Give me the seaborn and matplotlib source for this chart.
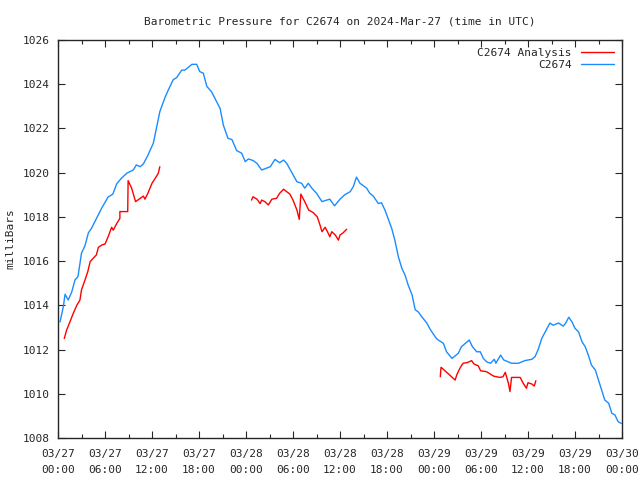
import pandas as pd
import matplotlib
matplotlib.use("Agg")
import matplotlib.pyplot as plt
import seaborn as sns
from matplotlib.lines import Line2D

# hours since 2024-03-27 00:00 UTC
obs_hours = [0.26, 0.68, 0.9, 1.3, 1.75, 2.17, 2.55, 3.0, 3.45, 3.87, 4.3, 4.94, 5.58, 6.4,
             7.0, 7.5, 8.1, 8.8, 9.6, 10.0, 10.5, 10.9, 11.5, 11.74, 12.17, 12.6, 13.0, 13.66,
             14.08, 14.7, 15.15, 15.8, 16.2, 17.1, 17.7, 18.1, 18.55, 19.0, 19.6, 20.26, 20.7,
             21.1, 21.7, 22.2, 22.8, 23.45, 23.9, 24.3, 24.9, 25.4, 26.0, 26.6, 27.1, 27.7,
             28.3, 28.8, 29.2, 29.9, 30.5, 31.1, 31.5, 31.95, 32.4, 33.0, 33.7, 34.3, 34.7,
             35.3, 36.0, 36.6, 37.3, 37.7, 38.1, 38.55, 39.4, 39.8, 40.25, 40.9, 41.3, 41.75,
             42.2, 42.6, 43.0, 43.45, 43.9, 44.3, 44.7, 45.2, 45.6, 46.0, 46.4, 47.1, 47.5,
             48.3, 48.55, 49.2, 49.6, 50.3, 51.1, 51.5, 52.0, 52.5, 52.9, 53.45, 53.9, 54.3,
             54.7, 55.2, 55.7, 55.9, 56.5, 56.9, 57.9, 58.8, 59.6, 60.5, 60.9, 61.3, 61.75,
             62.2, 62.8, 63.2, 63.9, 64.5, 64.8, 65.2, 65.6, 66.0, 66.45, 66.9, 67.3, 67.7,
             68.1, 68.6, 69.0, 69.4, 69.8, 70.3, 70.7, 71.1, 71.5, 71.9]
obs_mb = [1013.25, 1013.94, 1014.5, 1014.24, 1014.6, 1015.15, 1015.3, 1016.36, 1016.7, 1017.27,
          1017.5, 1017.95, 1018.4, 1018.9, 1019.03, 1019.5, 1019.75, 1019.98, 1020.12, 1020.35,
          1020.27, 1020.4, 1020.8, 1021.0, 1021.33, 1022.08, 1022.76, 1023.4, 1023.74, 1024.2,
          1024.3, 1024.64, 1024.64, 1024.9, 1024.9, 1024.57, 1024.5, 1023.9, 1023.66, 1023.2,
          1022.9, 1022.16, 1021.55, 1021.5, 1021.0, 1020.88, 1020.5, 1020.62, 1020.55, 1020.42,
          1020.12, 1020.2, 1020.27, 1020.6, 1020.45, 1020.57, 1020.42, 1019.97, 1019.59, 1019.52,
          1019.3, 1019.52, 1019.3, 1019.07, 1018.69, 1018.76, 1018.8, 1018.5, 1018.8, 1019.0,
          1019.14, 1019.37, 1019.8, 1019.52, 1019.3, 1019.07, 1018.94, 1018.6, 1018.64, 1018.3,
          1017.86, 1017.48, 1016.95, 1016.2, 1015.67, 1015.37, 1014.92, 1014.47, 1013.8, 1013.7,
          1013.5, 1013.19, 1012.92, 1012.5, 1012.43, 1012.28, 1011.9, 1011.6, 1011.83, 1012.13,
          1012.28, 1012.43, 1012.13, 1011.9, 1011.9, 1011.6, 1011.45, 1011.38, 1011.56, 1011.38,
          1011.75, 1011.53, 1011.38, 1011.38, 1011.5, 1011.56, 1011.68, 1012.0, 1012.5, 1012.8,
          1013.2, 1013.1, 1013.2, 1013.06, 1013.19, 1013.46, 1013.26, 1012.96, 1012.8, 1012.35,
          1012.13, 1011.75, 1011.3, 1011.07, 1010.62, 1010.17, 1009.72, 1009.57, 1009.12,
          1009.04, 1008.74, 1008.66]

# analysis runs (three separate pieces)
ana1_hours = [0.8, 1.1, 1.53, 1.95, 2.4, 2.8, 3.0, 3.45, 3.8, 4.1, 4.5, 4.9, 5.15, 5.6, 6.0,
              6.4, 6.85, 7.05, 7.5, 7.9, 7.9, 8.9, 8.95, 9.4, 9.9, 10.5, 10.9, 11.1, 11.5,
              12.0, 12.4, 12.8, 13.0]
ana1_mb = [1012.5, 1012.88, 1013.26, 1013.64, 1014.0, 1014.24, 1014.7, 1015.15, 1015.52,
           1015.97, 1016.13, 1016.28, 1016.62, 1016.73, 1016.77, 1017.1, 1017.53, 1017.4,
           1017.7, 1017.93, 1018.24, 1018.24, 1019.64, 1019.3, 1018.69, 1018.84, 1018.94,
           1018.8, 1019.09, 1019.52, 1019.74, 1019.97, 1020.27]
ana2_hours = [24.7, 24.9, 25.4, 25.8, 26.0, 26.4, 26.85, 27.3, 27.9, 28.3, 28.8, 29.2, 29.6,
              30.0, 30.5, 30.8, 31.0, 31.5, 32.0, 32.6, 33.1, 33.45, 33.7, 34.1, 34.4, 34.7,
              34.95, 35.4, 35.8, 36.0, 36.4, 36.85]
ana2_mb = [1018.76, 1018.91, 1018.8, 1018.6, 1018.76, 1018.69, 1018.54, 1018.8, 1018.84,
           1019.07, 1019.25, 1019.14, 1019.03, 1018.76, 1018.31, 1017.89, 1019.03, 1018.69,
           1018.31, 1018.19, 1018.0, 1017.63, 1017.33, 1017.53, 1017.33, 1017.1, 1017.33,
           1017.18, 1016.95, 1017.18, 1017.28, 1017.44]
ana3_hours = [48.8, 48.9, 49.4, 50.0, 50.7, 50.9, 51.3, 51.7, 52.25, 52.8, 53.1, 53.65, 53.95,
              54.7, 55.6, 56.4, 56.8, 57.1, 57.5, 57.7, 57.9, 59.0, 59.4, 59.8, 60.0, 60.5,
              60.8, 61.0]
ana3_mb = [1010.77, 1011.2, 1011.04, 1010.85, 1010.62, 1010.85, 1011.15, 1011.38, 1011.41,
           1011.5, 1011.35, 1011.26, 1011.04, 1011.0, 1010.8, 1010.74, 1010.77, 1010.97,
           1010.47, 1010.1, 1010.74, 1010.74, 1010.47, 1010.25, 1010.5, 1010.44, 1010.35,
           1010.59]

tick_hours = list(range(0, 73, 6))
tick_labels = ["03/27\n00:00", "03/27\n06:00", "03/27\n12:00", "03/27\n18:00",
               "03/28\n00:00", "03/28\n06:00", "03/28\n12:00", "03/28\n18:00",
               "03/29\n00:00", "03/29\n06:00", "03/29\n12:00", "03/29\n18:00",
               "03/30\n00:00"]

obs = pd.DataFrame({"hour": obs_hours, "mb": obs_mb})
ana = pd.concat([
    pd.DataFrame({"hour": ana1_hours, "mb": ana1_mb, "run": 1}),
    pd.DataFrame({"hour": ana2_hours, "mb": ana2_mb, "run": 2}),
    pd.DataFrame({"hour": ana3_hours, "mb": ana3_mb, "run": 3}),
], ignore_index=True)

sns.set_style("ticks")
plt.rcParams["font.family"] = ["DejaVu Sans Mono"]
plt.rcParams["font.size"] = 8

red = "#ff0000"
blue = "#1a8cff"

fig = plt.figure(figsize=(6.4, 4.8), dpi=100)
ax = fig.add_axes([58 / 640, 1 - 438 / 480, 564 / 640, 398 / 480])

sns.lineplot(data=ana, x="hour", y="mb", units="run", estimator=None, sort=False,
             color=red, linewidth=1.0, ax=ax)
sns.lineplot(data=obs, x="hour", y="mb", estimator=None, sort=False,
             color=blue, linewidth=1.0, ax=ax)

ax.set_xlim(0, 72)
ax.set_ylim(1008, 1026)
ax.set_xticks(tick_hours)
ax.set_xticklabels(tick_labels, linespacing=1.7)
ax.set_xticks(range(3, 72, 6), minor=True)
ax.set_yticks(range(1008, 1027, 2))
ax.tick_params(which="both", direction="in", top=True, right=True, length=5, width=0.8)
ax.tick_params(which="minor", length=3)
ax.tick_params(axis="x", pad=8)
ax.tick_params(axis="y", pad=6)
for s in ax.spines.values():
    s.set_linewidth(1.0)
ax.set_xlabel("")
ax.set_ylabel("milliBars", labelpad=5)
ax.set_title("Barometric Pressure for C2674 on 2024-Mar-27 (time in UTC)", pad=11, fontsize=8)

handles = [Line2D([], [], color=red, lw=1.0), Line2D([], [], color=blue, lw=1.0)]
ax.legend(handles, ["C2674 Analysis", "C2674"], loc="upper right", frameon=False,
          markerfirst=False, handlelength=3.0, borderaxespad=0.3, labelspacing=0.2,
          alignment="right")

fig.savefig("out.png", dpi=100)
